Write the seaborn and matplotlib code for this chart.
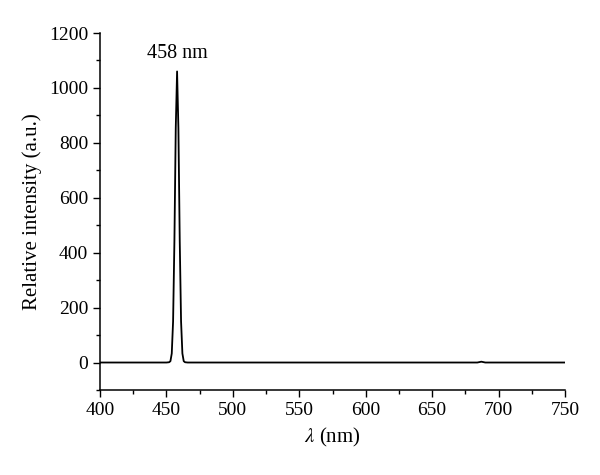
import pandas as pd
import seaborn as sns
import matplotlib.pyplot as plt

# emission spectrum
wavelength = [400, 440, 450, 452, 453, 454, 455, 456, 457, 458, 459, 460, 461, 462, 463, 464, 466,
              500, 600, 684, 686, 687, 688, 690, 750]
intensity = [0, 0, 0, 1, 5, 33, 150, 444, 853, 1060, 853, 444, 150, 33, 5, 1, 0,
             0, 0, 0, 2, 3, 2, 0, 0]

peak_label = "458 nm"
peak_x = 458
peak_y = 1090

df = pd.DataFrame({"wavelength": wavelength, "intensity": intensity})

sns.set_style("ticks")
plt.rcParams['font.family'] = ['Liberation Serif', 'DejaVu Serif']
plt.rcParams['mathtext.fontset'] = 'stix'
plt.rcParams['text.color'] = 'black'
plt.rcParams['axes.labelcolor'] = 'black'
plt.rcParams['xtick.color'] = 'black'
plt.rcParams['ytick.color'] = 'black'

fig = plt.figure(figsize=(6, 4.75), dpi=100)
ax = fig.add_axes([0.1667, 0.179, 0.775, 0.7515])

sns.lineplot(data=df, x="wavelength", y="intensity", color="black", linewidth=1.3, ax=ax)

ax.set_xlim(400, 750)
ax.set_ylim(-100, 1200)
ax.set_xticks(range(400, 751, 50))
ax.set_xticks(range(425, 750, 50), minor=True)
ax.set_yticks(range(0, 1201, 200))
ax.set_yticks(range(-100, 1200, 200), minor=True)

ax.tick_params(axis='both', which='major', direction='out', length=5, width=1, labelsize=14,
               color='black', labelcolor='black')
ax.tick_params(axis='both', which='minor', direction='out', length=3, width=1, color='black')
sns.despine(ax=ax)
for s in ['left', 'bottom']:
    ax.spines[s].set_linewidth(1.1)
    ax.spines[s].set_color('black')

ax.set_xlabel(r"$\it{\lambda}$ (nm)", fontsize=15, labelpad=5)
ax.set_ylabel("Relative intensity (a.u.)", fontsize=15, labelpad=5)

ax.text(peak_x, peak_y, peak_label, ha='center', va='bottom', fontsize=14.5, color='black')

fig.savefig("out.png", dpi=100)
